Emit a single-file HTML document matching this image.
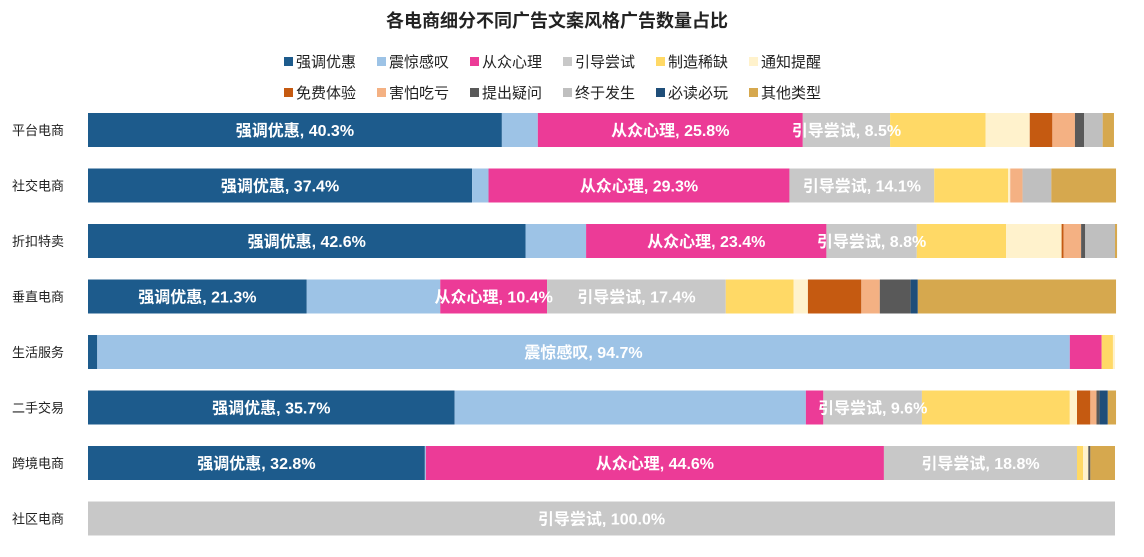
<!DOCTYPE html>
<html><head><meta charset="utf-8"><style>
body{margin:0;background:#fff;font-family:"Liberation Sans","Noto Sans CJK SC",sans-serif;}
</style></head><body>
<svg id="c" width="1144" height="552" xmlns="http://www.w3.org/2000/svg">
<text x="557" y="27" text-anchor="middle" font-size="18" font-weight="bold" fill="#222">各电商细分不同广告文案风格广告数量占比</text>
<g id="legend"></g>
<g id="bars"></g>
</svg>
<script>
const categories=["平台电商","社交电商","折扣特卖","垂直电商","生活服务","二手交易","跨境电商","社区电商"];
const seriesNames=["强调优惠","震惊感叹","从众心理","引导尝试","制造稀缺","通知提醒","免费体验","害怕吃亏","提出疑问","终于发生","必读必玩","其他类型"];
const colors=["#1d5b8c","#9dc3e6","#ec3b97","#c8c8c8","#ffd966","#fff2cc","#c55a11","#f4b183","#595959","#bfbfbf","#1f4e79","#d6a84e"];
const s0=[40.3,37.4,42.6,21.3,0.9,35.7,32.8,0];
const s1=[3.5,1.6,5.9,13.0,94.7,34.2,0.1,0];
const s2=[25.8,29.3,23.4,10.4,3.1,1.7,44.6,0];
const s3=[8.5,14.1,8.8,17.4,0,9.6,18.8,100];
const s4=[9.3,7.2,8.7,6.6,1.1,14.4,0.6,0];
const s5=[4.3,0.2,5.4,1.4,0.2,0.7,0.5,0];
const s6=[2.2,0,0.2,5.2,0,1.3,0,0];
const s7=[2.2,1.2,1.7,1.8,0,0.6,0,0];
const s8=[0.9,0,0.4,3.0,0,0.3,0.2,0];
const s9=[1.8,2.8,2.9,0,0,0,0,0];
const s10=[0,0,0,0.7,0,0.8,0,0];
const s11=[1.1,6.3,0.2,19.3,0,0.8,2.4,0];
const series=[s0,s1,s2,s3,s4,s5,s6,s7,s8,s9,s10,s11];
const labeled=[[0,2,3],[0,2,3],[0,2,3],[0,2,3],[1],[0,3],[0,2,3],[3]];
const NS="http://www.w3.org/2000/svg";
const X0=88,X1=1115,Y0=130,DY=55.5,BH=34;
const xs=v=>X0+(X1-X0)*v/100;
const bars=document.getElementById('bars');
categories.forEach((cat,i)=>{
  const cy=Y0+i*DY;
  const t=document.createElementNS(NS,'text');
  t.setAttribute('x',12);t.setAttribute('y',cy+5);t.setAttribute('font-size',13);t.setAttribute('fill','#222');
  t.textContent=cat;
  
  
  bars.appendChild(t);
  let acc=0;const labs=[];
  series.forEach((s,j)=>{
    const v=s[i];if(v<=0)return;
    const r=document.createElementNS(NS,'rect');
    r.setAttribute('x',xs(acc));r.setAttribute('y',cy-BH/2);r.setAttribute('width',xs(acc+v)-xs(acc));r.setAttribute('height',BH);r.setAttribute('fill',colors[j]);
    
    
    bars.appendChild(r);
    if(labeled[i].includes(j))labs.push([j,acc+v/2,v]);
    acc+=v;
  });
  labs.forEach(([j,c,v])=>{
    const l=document.createElementNS(NS,'text');
    l.setAttribute('x',xs(c));l.setAttribute('y',cy+6);l.setAttribute('text-anchor','middle');l.setAttribute('font-size',16);l.setAttribute('font-weight','bold');l.setAttribute('fill','#fff');
    l.textContent=seriesNames[j]+", "+v.toFixed(1)+"%";
    
    
    bars.appendChild(l);
  });
});
const lg=document.getElementById('legend');
const rows=[[0,1,2,3,4,5],[6,7,8,9,10,11]];
rows.forEach((row,ri)=>{
  let x=ri==0?284:284;const y=ri==0?62:93;
  row.forEach(j=>{
    const r=document.createElementNS(NS,'rect');
    r.setAttribute('x',x);r.setAttribute('y',y-5);r.setAttribute('width',9);r.setAttribute('height',9);r.setAttribute('fill',colors[j]);
    
    
    lg.appendChild(r);
    const t=document.createElementNS(NS,'text');
    t.setAttribute('x',x+12);t.setAttribute('y',y+5);t.setAttribute('font-size',15);t.setAttribute('fill','#222');
    t.textContent=seriesNames[j];
    
    
    lg.appendChild(t);
    x+=12+15*4+21;
  });
});
</script>
</body></html>
